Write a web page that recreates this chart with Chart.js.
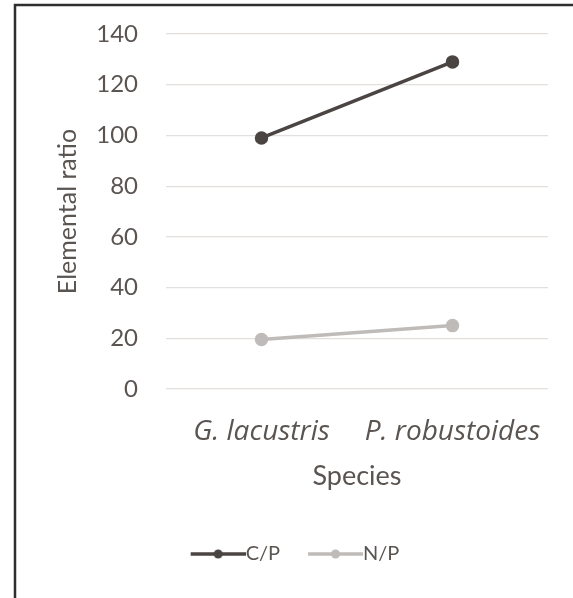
<!DOCTYPE html>
<html>
<head>
<meta charset="utf-8">
<script src="https://cdn.jsdelivr.net/npm/chart.js@4/dist/chart.umd.min.js"></script>
<style>
html,body{margin:0;padding:0;background:#fff;}
canvas{display:block;}
</style>
</head>
<body>
<canvas id="c" width="573" height="598"></canvas>
<script>
const categories = ["G. lacustris", "P. robustoides"];
const seriesNames = ["C/P", "N/P"];
const cpValues = [99, 129];
const npValues = [19.5, 25];
const yTicks = [0, 20, 40, 60, 80, 100, 120, 140];

const textColor = "#5b5552";
const cpColor = "#4a4543";
const npColor = "#bfbbb8";
const fontFamily = "Lato, 'Open Sans', sans-serif";

function legendImage(color) {
  const c = document.createElement("canvas");
  c.width = 65; c.height = 14;
  const g = c.getContext("2d");
  g.strokeStyle = color; g.lineWidth = 3.5;
  g.beginPath(); g.moveTo(10, 7); g.lineTo(65, 7); g.stroke();
  g.fillStyle = color;
  g.beginPath(); g.arc(37.5, 7, 4.5, 0, Math.PI * 2); g.fill();
  return c;
}

const frame = {
  id: "frame",
  afterDraw(chart) {
    const ctx = chart.ctx;
    ctx.save();
    ctx.strokeStyle = "#2e2e2e";
    ctx.lineWidth = 2.5;
    ctx.beginPath();
    ctx.moveTo(15, 598);
    ctx.lineTo(15, 5);
    ctx.lineTo(573, 5);
    ctx.stroke();
    ctx.restore();
  }
};

new Chart(document.getElementById("c"), {
  type: "line",
  data: {
    labels: categories,
    datasets: [
      { label: seriesNames[0], data: cpValues, borderColor: cpColor, backgroundColor: cpColor,
        borderWidth: 3.5, pointRadius: 5, pointBackgroundColor: cpColor, pointBorderColor: cpColor, yAxisID: "y" },
      { label: seriesNames[1], data: npValues, borderColor: npColor, backgroundColor: npColor,
        borderWidth: 3.5, pointRadius: 5, pointBackgroundColor: npColor, pointBorderColor: npColor, yAxisID: "y" }
    ]
  },
  options: {
    responsive: false,
    animation: false,
    devicePixelRatio: 1,
    layout: { padding: { left: 17, right: 0, top: 34, bottom: 24 } },
    plugins: {
      tooltip: { enabled: false },
      legend: {
        position: "bottom",
        labels: {
          color: textColor,
          font: { family: fontFamily, size: 20 },
          usePointStyle: true,
          pointStyleWidth: 45,
          padding: 28,
          generateLabels(chart) {
            return chart.data.datasets.map((ds, i) => ({
              text: ds.label,
              fillStyle: ds.borderColor,
              strokeStyle: ds.borderColor,
              fontColor: textColor,
              pointStyle: legendImage(ds.borderColor),
              datasetIndex: i,
              lineWidth: 0
            }));
          }
        }
      }
    },
    scales: {
      x: {
        offset: true,
        afterFit(scale) { scale.height = 127; },
        grid: { display: false, drawTicks: false },
        border: { display: false },
        ticks: { color: textColor, font: { family: "'Open Sans', sans-serif", size: 28, style: "italic" }, padding: 26, maxRotation: 0 },
        title: { display: true, text: "Species", color: textColor, font: { family: fontFamily, size: 27 }, padding: { top: 0, bottom: 24 } }
      },
      y: {
        min: 0, max: 140,
        afterBuildTicks(scale) { scale.ticks = yTicks.map(v => ({ value: v })); },
        afterFit(scale) { scale.width = 149; scale.paddingTop = 0; scale.paddingBottom = 0; },
        grid: { color: "#e3dfdc", lineWidth: 1.2, drawTicks: false },
        border: { display: false },
        ticks: { color: textColor, font: { family: fontFamily, size: 24 }, padding: 28 },
        title: { display: true, text: "Elemental ratio", color: textColor, font: { family: fontFamily, size: 25 }, padding: { top: 36, bottom: 0 } }
      },
      y2: {
        position: "right",
        min: 0, max: 140,
        afterFit(scale) { scale.width = 25; scale.paddingTop = 0; scale.paddingBottom = 0; },
        grid: { display: false, drawTicks: false },
        border: { display: false },
        ticks: { display: false }
      }
    }
  },
  plugins: [frame]
});
</script>
</body>
</html>
